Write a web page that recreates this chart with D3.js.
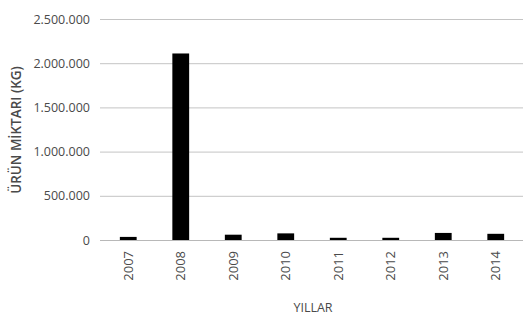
<!DOCTYPE html>
<html>
<head>
<meta charset="utf-8">
<script src="https://cdn.jsdelivr.net/npm/d3@7"></script>
<style>
  body { margin: 0; background: #fff; }
  text { font-family: "Open Sans", "Noto Sans", sans-serif; fill: #4a4a4a; }
</style>
</head>
<body>
<div id="chart"></div>
<script>
// yillar ve urun miktarlari (kg)
var years = ["2007", "2008", "2009", "2010", "2011", "2012", "2013", "2014"];
var amounts = [35000, 2110000, 60000, 75000, 25000, 25000, 80000, 70000];
var yTicks = [0, 500000, 1000000, 1500000, 2000000, 2500000];

var width = 532, height = 315;

var svg = d3.select("#chart").append("svg")
  .attr("width", width).attr("height", height);

var x = d3.scaleBand().domain(years).range([102, 522]).paddingInner(0.68).paddingOuter(0.34);
var y = d3.scaleLinear().domain([0, 2500000]).range([240, 19]);

// format 2.500.000
var fmt = function(v) { return d3.format(",")(v).replace(/,/g, "."); };

// grid
svg.append("g").selectAll("line").data(yTicks).enter().append("line")
  .attr("x1", 100).attr("x2", 523)
  .attr("y1", function(d) { return y(d) + 0.5; })
  .attr("y2", function(d) { return y(d) + 0.5; })
  .attr("stroke", function(d) { return d == 0 ? "#b8b8b8" : "#c4c4c4"; })
  .attr("stroke-width", 1);

// y axis labels
svg.append("g").selectAll("text").data(yTicks).enter().append("text")
  .attr("x", 90).attr("y", function(d) { return y(d) + 4.5; })
  .attr("text-anchor", "end").style("font-size", "12.5px")
  .text(fmt);

// bars
svg.append("g").selectAll("rect").data(amounts).enter().append("rect")
  .attr("x", function(d, i) { return x(years[i]); })
  .attr("width", x.bandwidth())
  .attr("y", function(d) { return y(d); })
  .attr("height", function(d) { return y(0) - y(d); })
  .attr("fill", "#000");

// x labels (dikey)
svg.append("g").selectAll("text").data(years).enter().append("text")
  .attr("transform", function(d) { return "translate(" + (x(d) + x.bandwidth() / 2 + 4.5) + ",251) rotate(-90)"; })
  .attr("text-anchor", "end").style("font-size", "13px")
  .text(function(d) { return d; });

// axis titles
svg.append("text").attr("x", 313).attr("y", 312).attr("text-anchor", "middle")
  .style("font-size", "12.5px").text("YILLAR");

svg.append("text").attr("transform", "translate(21,130) rotate(-90)")
  .attr("text-anchor", "middle").style("font-size", "13.5px").style("font-weight", "600")
  .text("ÜRÜN MİKTARI (KG)");
</script>
</body>
</html>
